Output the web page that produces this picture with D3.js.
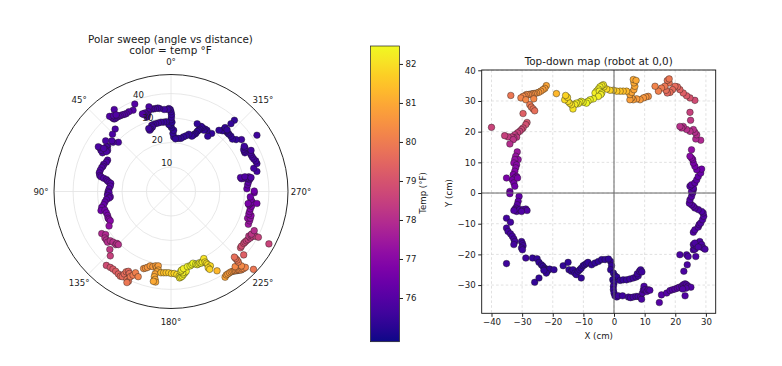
<!DOCTYPE html>
<html><head><meta charset="utf-8">
<script src="https://cdn.jsdelivr.net/npm/d3@7"></script>
<style>
body{margin:0;background:#fff}
text{font-family:"DejaVu Sans",sans-serif;fill:#1a1a1a}
</style>
</head><body>
<svg id="c" width="782" height="366"></svg>
<script>
// ---- data: sweep samples projected on the floor map (cm) + temperature (°F)
const mapX = [
 -1.1,-0.8,-1.1,-0.2,0.3,0.9,-0.4,0.0,-0.2,-0.2,0.0,0.3,0.9,
 1.4,2.8,4.7,5.4,6.3,7.2,7.9,8.7,9.0,9.3,9.6,9.8,10.1,10.7,11.2,11.7,
 2.0,3.0,4.1,5.2,6.3,7.2,7.9,7.6,8.3,8.7,9.1,
 14.8,15.5,17.2,18.3,19.1,19.9,20.7,21.3,22.1,22.6,23.2,23.7,24.2,25.1,23.2,23.5,22.4,
 22.8,23.9,21.5,23.7,24.2,25.9,26.4,26.7,25.9,27.0,27.5,28.0,28.6,29.1,29.7,26.4,27.5,
 25.9,26.4,27.5,27.8,28.3,28.9,29.3,29.1,28.6,27.5,26.4,25.9,25.3,24.6,24.8,25.3,25.7,25.9,
 25.3,25.9,24.8,25.3,26.4,27.0,27.5,28.3,28.6,27.0,26.4,25.9,25.7,25.3,24.8,25.3,
 28.3,26.7,27.0,26.4,25.9,24.8,23.7,22.6,22.1,21.5,25.0,24.8,
 26.4,24.8,23.7,22.6,21.5,20.7,19.9,19.1,18.3,17.4,17.0,18.0,17.4,18.0,16.6,15.5,14.5,13.4,
 11.2,10.4,9.6,8.5,7.4,6.3,5.8,5.2,5.2,5.8,6.5,6.8,6.5,6.3,7.2,
 4.1,3.0,2.0,0.9,-0.2,-1.3,-2.4,
 -3.3,-3.5,-4.0,-4.6,-5.1,-5.7,-6.2,-4.8,-4.0,-4.3,-5.1,-6.7,-7.8,
 -8.5,-9.0,-10.1,-10.7,-11.2,-11.7,-12.3,-12.8,-13.4,-13.9,-14.5,-15.0,-16.1,-15.2,-15.8,
 -18.8,
 -22.1,-22.6,-23.2,-23.9,-24.6,-25.3,-25.9,-26.4,-27.0,-27.5,-28.0,-28.6,-29.1,-29.7,-30.4,-28.8,-26.2,-33.7,
 -27.5,-27.0,-26.4,-25.9,-29.7,-28.4,
 -28.8,-29.7,-30.2,-30.8,-31.5,-32.4,-31.8,-32.7,-33.5,-34.6,-35.7,-32.9,-34.0,-40.0,
 -31.6,-32.1,-31.3,-32.4,-32.7,-31.8,-32.1,-32.4,-32.9,-31.8,-32.4,-33.2,-32.7,-31.5,-35.1,-34.0,-32.4,-31.0,
 -34.0,-31.3,-31.6,-32.1,-32.4,-31.8,-30.8,-29.7,-28.8,-28.4,-30.2,-32.7,
 -35.1,-33.8,-35.1,-34.6,-33.8,-33.2,-32.7,-32.4,-32.7,-30.2,-29.9,-29.7,-30.2,-29.9,-28.8,-35.1,
 -26.6,-25.1,-24.5,-23.7,-23.2,-22.6,-22.3,-21.8,-21.5,-21.0,-22.1,-22.9,-25.9,-24.5,-19.6,
 -16.6,-15.0,-14.7,-13.9,-13.4,-12.8,-12.3,-11.7,-11.2,-10.7,-10.1,-9.6,-9.0,-8.5,-10.7,
 -7.3,-6.2,-5.1,-4.0,-2.9,-1.8
];
const mapY = [
 -22.3,-23.7,-25.0,-26.1,-27.0,-27.4,-28.3,-29.3,-30.4,-31.5,-32.6,-33.5,-33.9,
 -33.5,-33.5,-33.9,-34.1,-33.9,-33.7,-33.7,-33.9,-34.6,-32.6,-31.5,-30.4,-31.5,-32.1,-31.5,-31.7,
 -28.5,-28.3,-28.3,-28.0,-27.7,-27.4,-27.0,-26.3,-25.5,-25.0,-25.7,
 -35.7,-33.2,-32.6,-31.8,-31.5,-31.3,-31.0,-30.7,-30.4,-29.9,-29.6,-29.9,-30.4,-30.7,-33.5,-31.0,-31.3,
 -25.5,-23.4,-20.1,-20.1,-20.7,-18.5,-18.3,-20.7,-16.8,-17.4,-16.3,-15.8,-16.8,-17.9,-18.3,-16.3,-17.6,
 -12.8,-12.0,-11.1,-10.3,-9.8,-8.7,-7.6,-6.5,-6.0,-5.4,-4.9,-4.3,-3.8,-3.3,-2.2,-1.1,0.0,1.1,
 0.5,1.6,2.2,2.7,3.3,4.3,5.4,6.5,7.8,7.6,8.7,9.8,10.9,11.4,12.0,14.1,
 17.2,17.6,19.0,19.8,20.7,20.1,20.7,21.7,21.2,21.7,23.7,26.3,
 30.2,31.0,31.7,32.6,33.7,34.6,34.8,33.7,32.8,32.6,33.5,35.9,36.7,37.2,34.8,34.2,33.2,34.8,
 31.5,31.3,31.0,30.4,30.7,30.4,31.0,30.4,32.1,32.8,33.7,34.8,35.9,37.0,36.7,
 33.2,33.2,33.2,33.2,33.5,33.5,33.9,
 34.6,35.3,35.0,34.6,33.9,33.2,32.6,33.2,32.6,32.1,31.5,30.7,30.4,
 29.9,29.3,29.6,29.9,29.6,29.1,29.3,28.8,27.4,28.8,29.3,29.9,30.4,31.2,31.8,
 32.4,
 35.0,34.1,33.7,33.2,32.8,32.6,32.4,32.4,32.3,32.1,32.1,32.1,31.7,31.5,31.0,30.4,30.7,31.8,
 28.8,28.0,27.4,26.8,25.9,23.0,
 22.3,21.2,20.7,20.1,19.6,19.0,18.2,17.9,18.3,18.3,18.7,17.4,16.0,21.4,
 13.4,12.0,10.9,10.9,9.8,9.2,8.2,7.1,6.0,5.4,4.9,4.3,3.3,4.9,4.9,0.5,2.2,-1.1,
 -0.2,-2.7,-3.8,-4.9,-5.4,-6.0,-5.4,-5.4,-5.2,-5.7,-6.0,-5.7,
 -8.2,-9.5,-11.4,-12.5,-13.3,-14.1,-15.0,-15.8,-16.8,-15.8,-16.5,-17.2,-17.9,-18.5,-21.2,-23.0,
 -21.2,-21.4,-22.6,-23.4,-23.9,-24.5,-25.0,-25.5,-25.0,-24.8,-26.1,-25.2,-29.1,-27.7,-25.0,
 -23.7,-22.6,-25.0,-25.5,-25.0,-26.1,-26.6,-25.5,-25.0,-24.5,-23.7,-23.4,-23.0,-22.6,-27.7,
 -23.4,-22.8,-22.3,-21.7,-21.7,-21.5
];
const tempF = [
 75.5,75.4,75.4,75.3,75.3,75.4,75.3,75.4,75.5,75.5,75.5,75.5,75.6,
 75.6,75.6,75.6,75.7,75.7,75.7,75.7,75.8,75.8,75.8,75.8,75.8,75.8,75.9,75.9,75.9,
 75.5,75.5,75.5,75.6,75.6,75.6,75.6,75.6,75.6,75.6,75.6,
 76.0,76.0,76.0,76.0,76.0,76.0,76.0,76.0,75.9,75.9,75.9,75.9,75.9,75.9,75.9,75.9,75.9,
 75.8,75.8,75.8,75.8,75.8,75.8,75.8,75.8,75.8,75.8,75.8,75.8,75.8,75.8,75.8,75.8,75.8,
 75.9,75.9,75.9,75.9,75.9,75.9,75.9,75.9,75.9,75.9,75.9,76.0,76.0,76.0,76.0,76.0,76.0,76.0,
 76.0,76.0,76.0,76.1,76.1,76.2,76.3,76.4,76.5,76.5,76.6,76.7,76.8,76.9,77.0,77.2,
 77.9,77.9,78.0,78.0,78.0,78.1,78.1,78.1,78.1,78.1,78.3,78.5,
 78.8,79.0,79.2,79.3,79.4,79.5,79.6,79.6,79.7,79.5,79.7,79.8,79.8,79.9,79.9,80.0,80.1,80.2,
 80.5,80.6,80.6,80.7,80.7,80.8,80.8,80.8,80.9,80.9,80.9,81.0,81.0,81.0,81.0,
 81.3,81.4,81.5,81.6,81.7,81.8,81.9,
 82.1,82.2,82.2,82.3,82.3,82.3,82.3,82.3,82.3,82.3,82.3,82.4,82.4,
 82.4,82.45,82.4,82.4,82.3,82.3,82.3,82.2,82.1,82.1,82.0,82.0,81.9,81.9,81.8,
 81.3,
 80.9,80.8,80.8,80.7,80.7,80.6,80.6,80.5,80.5,80.4,80.4,80.4,80.3,80.3,80.2,80.3,80.3,79.9,
 80.0,79.9,79.8,79.7,79.3,79.0,
 78.9,78.8,78.7,78.6,78.5,78.4,78.3,78.3,78.4,78.4,78.5,78.2,78.0,78.6,
 77.4,77.3,77.2,77.2,77.1,77.0,77.0,76.9,76.8,76.7,76.7,76.6,76.6,76.7,76.7,76.5,76.5,76.3,
 76.5,76.2,76.1,76.0,76.0,75.9,75.9,75.9,75.9,75.9,75.9,75.9,
 75.7,75.7,75.7,75.7,75.7,75.7,75.7,75.7,75.7,75.6,75.6,75.6,75.6,75.6,75.6,75.6,
 75.4,75.4,75.4,75.4,75.4,75.4,75.4,75.4,75.4,75.4,75.4,75.4,75.4,75.4,75.4,
 75.4,75.4,75.4,75.4,75.4,75.4,75.4,75.4,75.4,75.4,75.4,75.4,75.4,75.4,75.4,
 75.4,75.4,75.4,75.4,75.4,75.4
];
const radialTicks = [10, 20, 30, 40];
const thetaTicks = [0, 45, 90, 135, 180, 225, 270, 315];
const xTicks = [-40, -30, -20, -10, 0, 10, 20, 30];
const yTicks = [-30, -20, -10, 0, 10, 20, 30, 40];
const cbTicks = [76, 77, 78, 79, 80, 81, 82];
const tempLim = [74.88, 82.46];
const xLim = [-43.2, 33.2];
const yLim = [-39.2, 40.1];
const rMax = 47.8;

// ---- derived polar coordinates (angle measured CCW from theta zero at top)
const pts = mapX.map((x, i) => {
  const y = mapY[i];
  return {x, y, t: tempF[i],
    ang: (Math.atan2(x, -y) * 180 / Math.PI + 360) % 360,
    dist: Math.hypot(x, y)};
});

const svg = d3.select("#c");
const color = d3.scaleSequential(d3.interpolatePlasma).domain(tempLim);
const FS_T = 10.4, FS = 8.6;
const rad = d => -d * Math.PI / 180;

// ================= POLAR =================
const PC = {x: 171, y: 191.5}, R = 117;
const r = d3.scaleLinear().domain([0, rMax]).range([0, R]);
const gP = svg.append("g").attr("transform", `translate(${PC.x},${PC.y})`);
gP.selectAll("circle.g").data(radialTicks).join("circle")
  .attr("r", d => r(d)).attr("fill", "none").attr("stroke", "#e2e2e2").attr("stroke-width", 0.8);
gP.selectAll("line.s").data(thetaTicks).join("line")
  .attr("x1", 0).attr("y1", 0)
  .attr("x2", d => d3.pointRadial(rad(d), R)[0])
  .attr("y2", d => d3.pointRadial(rad(d), R)[1])
  .attr("stroke", "#e2e2e2").attr("stroke-width", 0.8);
gP.append("circle").attr("r", R).attr("fill", "none").attr("stroke", "#111").attr("stroke-width", 0.9);
gP.selectAll("circle.p").data(pts).join("circle")
  .attr("cx", d => d3.pointRadial(rad(d.ang), r(d.dist))[0])
  .attr("cy", d => d3.pointRadial(rad(d.ang), r(d.dist))[1])
  .attr("r", 3.3).attr("fill", d => color(d.t))
  .attr("stroke", "#1a1a1a").attr("stroke-width", 0.5).attr("stroke-opacity", 0.8);
gP.selectAll("text.rl").data(radialTicks).join("text")
  .attr("x", d => d3.pointRadial(rad(22.5), r(d))[0] + 5)
  .attr("y", d => d3.pointRadial(rad(22.5), r(d))[1] - 6)
  .attr("text-anchor", "middle").attr("dominant-baseline", "central")
  .attr("font-size", FS).text(d => d);
gP.selectAll("text.tl").data(thetaTicks).join("text")
  .attr("x", d => d3.pointRadial(rad(d), R + 13)[0])
  .attr("y", d => d3.pointRadial(rad(d), R + 13)[1])
  .attr("text-anchor", "middle").attr("dominant-baseline", "central")
  .attr("font-size", FS).text(d => d + "°");
svg.append("text").attr("x", 170.5).attr("y", 38.5).attr("text-anchor", "middle")
  .attr("dominant-baseline", "central").attr("font-size", FS_T).text("Polar sweep (angle vs distance)");
svg.append("text").attr("x", 170.5).attr("y", 50).attr("text-anchor", "middle")
  .attr("dominant-baseline", "central").attr("font-size", FS_T).text("color = temp °F");

// ================= COLORBAR =================
const CB = {x: 370.5, y0: 46, y1: 341.7, w: 29};
const cbY = d3.scaleLinear().domain(tempLim).range([CB.y1, CB.y0]);
const grad = svg.append("defs").append("linearGradient").attr("id", "pl")
  .attr("x1", 0).attr("y1", 1).attr("x2", 0).attr("y2", 0);
grad.selectAll("stop").data(d3.range(0, 1.0001, 0.05)).join("stop")
  .attr("offset", d => d).attr("stop-color", d => d3.interpolatePlasma(d));
svg.append("rect").attr("x", CB.x).attr("y", CB.y0).attr("width", CB.w).attr("height", CB.y1 - CB.y0)
  .attr("fill", "url(#pl)").attr("stroke", "#222").attr("stroke-width", 0.7);
const cbAxis = svg.append("g").attr("transform", `translate(${CB.x + CB.w},0)`)
  .call(d3.axisRight(cbY).tickValues(cbTicks).tickSize(3.5).tickPadding(2.5).tickFormat(d3.format("d")));
cbAxis.select(".domain").remove();
cbAxis.selectAll("text").attr("font-size", FS).attr("font-family", "DejaVu Sans");
cbAxis.selectAll("line").attr("stroke", "#222");
svg.append("text").attr("transform", "translate(423,193) rotate(-90)").attr("text-anchor", "middle")
  .attr("dominant-baseline", "central").attr("font-size", FS).text("Temp (°F)");

// ================= MAP =================
const M = {l: 481.7, r: 715.7, t: 70, b: 313.3};
const x = d3.scaleLinear().domain(xLim).range([M.l, M.r]);
const y = d3.scaleLinear().domain(yLim).range([M.b, M.t]);
const gM = svg.append("g");
gM.selectAll("line.gx").data(xTicks).join("line")
  .attr("x1", d => x(d)).attr("x2", d => x(d)).attr("y1", M.t).attr("y2", M.b)
  .attr("stroke", "#d4d4d4").attr("stroke-width", 0.7).attr("stroke-dasharray", "2.6,2.2");
gM.selectAll("line.gy").data(yTicks).join("line")
  .attr("y1", d => y(d)).attr("y2", d => y(d)).attr("x1", M.l).attr("x2", M.r)
  .attr("stroke", "#d4d4d4").attr("stroke-width", 0.7).attr("stroke-dasharray", "2.6,2.2");
gM.selectAll("circle.p").data(pts).join("circle")
  .attr("cx", d => x(d.x)).attr("cy", d => y(d.y))
  .attr("r", 3.3).attr("fill", d => color(d.t))
  .attr("stroke", "#1a1a1a").attr("stroke-width", 0.5).attr("stroke-opacity", 0.8);
gM.append("line").attr("x1", x(0)).attr("x2", x(0)).attr("y1", M.t).attr("y2", M.b)
  .attr("stroke", "#666").attr("stroke-width", 1);
gM.append("line").attr("y1", y(0)).attr("y2", y(0)).attr("x1", M.l).attr("x2", M.r)
  .attr("stroke", "#666").attr("stroke-width", 1);
gM.append("rect").attr("x", M.l).attr("y", M.t).attr("width", M.r - M.l).attr("height", M.b - M.t)
  .attr("fill", "none").attr("stroke", "#111").attr("stroke-width", 0.9);
const ax = svg.append("g").attr("transform", `translate(0,${M.b})`)
  .call(d3.axisBottom(x).tickValues(xTicks).tickSize(3.5).tickPadding(2));
const ay = svg.append("g").attr("transform", `translate(${M.l},0)`)
  .call(d3.axisLeft(y).tickValues(yTicks).tickSize(3.5).tickPadding(2.5));
[ax, ay].forEach(a => {
  a.select(".domain").remove();
  a.selectAll("text").attr("font-size", FS).attr("font-family", "DejaVu Sans");
  a.selectAll("line").attr("stroke", "#222");
});
svg.append("text").attr("x", (M.l + M.r) / 2).attr("y", 60.5).attr("text-anchor", "middle")
  .attr("dominant-baseline", "central").attr("font-size", FS_T).text("Top-down map (robot at 0,0)");
svg.append("text").attr("x", (M.l + M.r) / 2).attr("y", 336).attr("text-anchor", "middle")
  .attr("dominant-baseline", "central").attr("font-size", FS).text("X (cm)");
svg.append("text").attr("transform", "translate(448.5,193) rotate(-90)").attr("text-anchor", "middle")
  .attr("dominant-baseline", "central").attr("font-size", FS).text("Y (cm)");
</script>
</body></html>
